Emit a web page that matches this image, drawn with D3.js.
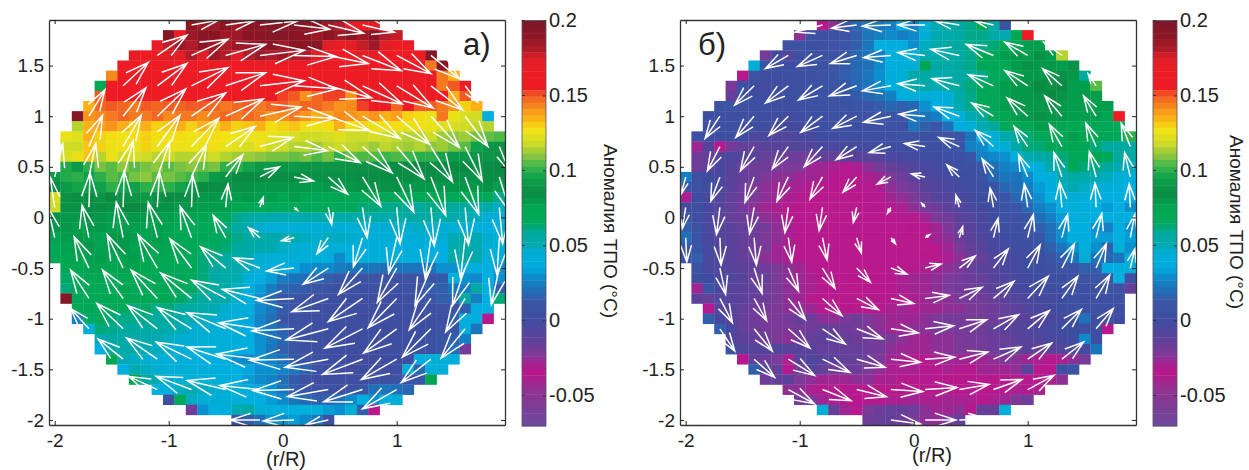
<!DOCTYPE html>
<html>
<head>
<meta charset="utf-8">
<script src="https://cdn.jsdelivr.net/npm/d3@7"></script>
<style>
  body { margin: 0; background: #fff; }
  text { font-family: "Liberation Sans", Arial, sans-serif; fill: #222; }
</style>
</head>
<body>
<div id="chart-area"></div>
<script>
var _ = null

// first filled column of each grid row (rows run from y=1.9 down to y=-2.0)
var firstCol = [12,10,9,7,6,5,4,4,3,2,2,1,1,1,1,0,0,0,0,0,0,0,0,0,1,1,1,1,2,2,3,4,4,5,6,7,9,10,12,16]

// SST anomaly, in 0.001 deg C
var sstA = [
[190,185,185,190,185,190,190,195,190,195,190,190,185,180,170,165,170],
[195,165,185,190,190,185,185,190,190,195,195,190,190,185,190,185,190,185,190,180,178],
[170,178,185,180,190,185,180,185,185,190,190,185,190,190,195,175,170,170,178,185,175,165,168],
[170,165,170,175,175,180,175,185,180,175,180,185,180,185,180,180,175,170,165,165,170,170,165,165,165,165,195],
[168,165,165,165,168,165,165,165,165,165,165,165,168,165,165,165,165,165,165,165,165,168,165,165,165,165,165,145,192],
[142,162,165,165,165,168,165,165,165,162,165,165,165,168,165,165,165,165,165,165,165,165,165,168,165,165,165,165,160,145,135],
[72,160,165,165,165,162,165,165,165,165,168,165,165,165,165,162,165,165,165,165,165,168,165,165,165,165,165,165,162,165,145,150,165],
[150,155,160,158,160,160,160,155,160,160,158,155,160,160,155,155,152,150,140,148,152,152,140,162,165,165,165,165,165,160,155,135,150],
[135,148,150,148,145,150,148,150,148,150,150,148,145,148,150,145,148,150,145,148,148,145,140,142,152,155,155,148,165,150,150,145,140,130,135],
[195,140,142,145,148,145,145,148,142,145,145,142,145,148,145,148,145,140,142,145,140,135,138,142,140,138,140,135,138,130,128,125,145,125,120,118,40],
[115,135,138,140,135,130,135,130,132,135,130,135,130,135,130,132,135,128,130,132,128,125,128,135,128,130,125,128,128,125,128,125,122,120,118,116,115],
[125,122,135,130,128,126,128,130,128,125,128,126,128,128,127,126,126,125,124,122,120,118,118,120,122,118,118,120,118,117,115,115,118,112,110,112,108,106,104],
[118,118,132,130,125,128,125,130,125,128,125,126,124,128,125,123,120,125,118,118,115,115,112,116,118,116,115,112,116,114,112,115,110,112,108,105,95,90,88],
[120,125,132,115,125,118,120,118,115,118,115,115,116,118,115,112,112,110,108,108,106,108,104,108,100,106,104,104,102,104,102,100,100,96,92,92,90,90,88],
[98,92,100,108,105,110,105,108,110,105,108,110,106,108,100,100,96,92,92,90,92,90,90,90,90,88,88,88,88,86,86,85,85,85,85,85,82,84,85],
[92,98,100,95,100,105,102,108,110,105,108,105,102,100,92,90,86,86,85,84,84,84,84,82,82,82,82,84,84,84,84,84,82,84,84,84,82,82,84,84],
[85,92,96,92,95,100,96,95,100,100,100,96,92,86,84,84,82,82,80,80,80,80,80,78,80,80,80,82,82,82,82,80,80,80,80,80,80,80,82,78],
[120,88,84,86,88,85,88,90,92,88,85,84,84,80,80,78,78,80,78,78,75,78,75,72,72,74,72,72,74,72,72,72,72,74,75,72,72,70,68,60],
[118,82,82,84,84,82,85,85,84,82,82,80,80,78,78,78,75,72,70,68,66,66,65,65,65,66,65,62,62,60,60,58,58,60,60,58,58,55,52,48],
[82,80,80,82,80,78,78,80,80,78,78,76,76,74,72,66,60,56,54,52,50,50,52,52,54,54,52,54,54,52,54,56,56,56,54,52,50,48,45,45],
[80,80,78,80,80,78,78,78,76,78,76,74,72,70,68,62,56,50,46,44,44,44,44,44,45,45,44,45,44,45,46,46,48,46,44,44,42,40,38,42],
[76,78,80,78,76,80,80,78,76,78,76,75,72,68,66,64,60,56,54,52,50,50,48,46,48,48,46,44,44,42,42,42,44,42,45,50,52,50,46,40],
[72,76,78,80,76,78,80,76,78,76,74,72,70,66,64,62,58,55,52,50,48,46,44,44,42,42,40,38,38,36,36,38,38,35,36,52,55,50,44,38],
[68,74,76,76,78,76,76,78,74,74,72,70,66,62,60,56,54,50,46,44,44,44,42,42,40,28,40,42,42,42,40,42,38,36,36,52,55,52,42,38],
[72,74,76,76,74,76,76,74,72,72,70,66,62,58,54,52,48,44,40,38,34,30,28,28,24,22,22,22,20,22,22,22,22,30,30,38,40,36,30],
[64,70,72,74,72,72,72,70,72,70,68,66,62,56,54,50,42,36,32,24,22,20,18,15,12,10,8,8,8,8,8,8,12,14,40,30,28,38,30],
[62,68,72,72,72,74,72,70,70,68,68,64,60,56,54,48,38,32,24,18,16,14,10,8,6,5,5,6,5,5,6,8,15,15,22,25,55,35,15],
[195,70,72,72,74,72,70,72,72,68,64,60,58,54,52,46,38,30,18,12,10,8,5,5,3,3,3,3,3,3,5,10,12,15,16,55,25,35,62],
[72,68,66,68,66,62,64,60,62,58,55,52,50,46,42,38,28,22,14,10,8,5,3,2,2,2,2,2,3,3,3,5,8,12,15,35,35],
[25,64,65,62,60,60,60,56,58,54,50,48,46,44,40,34,26,20,12,8,5,3,2,2,2,0,2,2,2,3,3,5,5,15,40,35,-35],
[40,62,60,58,58,56,56,52,50,46,46,44,42,42,36,28,22,16,10,5,3,2,2,0,2,2,0,2,2,3,5,8,12,40,22],
[50,55,54,54,52,50,48,46,45,44,44,42,42,38,30,24,18,12,6,5,2,2,0,0,2,2,2,3,5,8,12,15,25],
[35,55,54,52,50,48,46,44,44,42,42,40,38,36,30,22,15,10,5,3,2,0,0,0,0,2,2,3,5,8,12,20,-20],
[75,50,48,46,44,42,42,40,40,38,36,30,28,30,25,20,14,10,5,2,0,0,-2,0,0,2,2,38,42,42,40],
[35,50,48,46,44,44,42,42,40,38,36,34,30,30,26,22,16,8,2,0,-2,0,0,2,3,40,18,42,42],
[72,55,50,46,44,44,42,42,40,38,32,28,26,20,14,8,2,0,0,2,3,5,5,8,12,12,75],
[35,40,48,50,48,46,44,42,38,34,30,22,15,10,8,5,5,8,10,20,22,20,18],
[5,65,48,45,45,44,42,40,36,32,28,22,18,15,15,20,28,35,30,38,42],
[-20,30,35,40,50,55,45,42,40,40,40,40,32,30,45,15,-35],
[5,15,20,30,30,32,28,22,5]
]

// SST anomaly, in 0.001 deg C
var sstB = [
[-33,-25,10,18,22,22,25,38,25,45,50,55,58,60,72,55,8],
[-25,5,5,5,8,15,22,25,28,25,28,45,50,52,55,60,60,55,50,72,165],
[5,8,6,5,8,12,15,22,35,38,40,30,48,52,55,58,60,60,62,72,75,78,78],
[-20,-3,-8,2,5,5,8,12,18,22,25,38,42,42,50,52,55,55,60,68,70,78,80,78,82,78,115],
[42,12,2,3,4,5,8,10,14,18,20,28,38,42,45,68,55,55,58,60,68,72,72,78,82,80,80,78,82],
[-35,8,0,2,3,5,6,8,10,15,18,22,30,40,45,52,55,50,52,55,58,60,65,70,78,80,80,82,82,80,58],
[-22,5,0,-2,0,3,5,6,8,10,12,18,22,30,40,45,52,55,50,55,58,62,68,72,78,80,80,85,88,85,78,78,105],
[-15,5,2,0,2,3,5,6,8,8,10,14,18,20,25,35,42,45,40,45,52,60,65,70,78,80,80,82,85,82,78,80,78],
[8,8,5,3,2,2,3,5,5,6,8,8,10,12,15,18,15,18,30,35,42,50,60,65,72,78,80,80,80,82,80,78,78,78,78],
[3,3,3,3,2,2,0,-2,2,3,3,5,5,5,8,10,10,12,22,22,25,35,42,50,58,70,75,78,80,82,80,80,78,78,78,75,165],
[3,2,2,2,0,0,-2,-3,-2,0,2,2,3,3,5,5,8,5,22,15,12,20,38,45,50,58,65,72,75,78,78,75,75,72,70,68,65],
[5,3,3,3,0,-5,-5,-8,-8,-5,-3,0,0,2,2,3,3,5,8,8,5,5,8,10,22,38,45,52,58,62,68,72,75,78,75,75,70,65,100],
[-28,-10,-33,-20,-15,-15,-10,-12,-10,-8,-8,-5,-5,-3,-3,-2,0,0,2,2,5,5,8,12,25,28,38,45,55,62,62,68,70,75,72,62,58,55,55],
[-18,-15,-8,-5,-10,-10,-15,-15,-18,-18,-18,-15,-15,-12,-10,-10,-8,-5,-3,-2,0,0,3,5,12,25,28,30,40,50,55,58,62,68,70,75,65,58,55],
[-18,-15,-5,-10,-18,-18,-18,-22,-22,-22,-28,-28,-30,-32,-30,-25,-20,-15,-12,-8,-5,-3,0,3,5,12,20,25,28,35,42,50,58,65,62,60,58,50,48],
[25,5,0,-5,-12,-15,-18,-22,-25,-25,-28,-28,-30,-33,-33,-33,-30,-28,-22,-18,-12,-8,-5,-2,0,3,8,18,22,22,28,35,42,50,55,52,50,48,45,40],
[10,5,0,-5,-12,-18,-22,-25,-28,-28,-30,-33,-33,-35,-35,-33,-32,-30,-25,-22,-18,-12,-8,-5,-2,0,5,12,18,20,25,32,40,48,50,48,45,42,40,35],
[-30,0,-3,-8,-15,-18,-22,-25,-28,-30,-32,-35,-35,-36,-36,-35,-33,-32,-28,-25,-22,-15,-10,-8,-5,-2,2,8,12,18,22,30,35,42,45,42,40,35,38,35],
[-2,2,-5,-10,-15,-20,-25,-28,-30,-32,-35,-36,-36,-36,-36,-36,-35,-35,-32,-30,-25,-20,-18,-12,-8,-5,-2,2,8,12,18,25,30,38,42,40,38,32,35,30],
[5,3,-5,-12,-15,-18,-22,-25,-28,-32,-33,-36,-36,-36,-36,-35,-35,-35,-33,-33,-32,-28,-22,-18,-12,-8,-5,0,5,8,12,20,25,32,38,42,38,35,38,35],
[15,5,-5,-10,-12,-15,-18,-20,-25,-30,-33,-35,-36,-36,-36,-36,-35,-35,-36,-36,-35,-33,-28,-22,-15,-10,-5,-2,3,5,8,15,20,28,35,35,30,25,38,30],
[20,8,-5,-10,-12,-15,-18,-22,-25,-30,-33,-35,-36,-36,-36,-36,-36,-36,-35,-36,-36,-33,-28,-25,-18,-12,-8,-2,0,3,5,12,20,30,38,38,32,32,38,32],
[12,12,-2,-10,-12,-15,-20,-22,-28,-30,-33,-36,-36,-36,-36,-36,-36,-36,-36,-36,-36,-36,-33,-28,-22,-15,-10,-5,-2,0,2,5,15,22,30,42,30,15,42,30],
[8,15,-5,-8,-12,-15,-18,-25,-28,-30,-33,-36,-36,-36,-36,-36,-36,-36,-36,-36,-36,-35,-33,-30,-25,-18,-15,-8,-5,-2,0,3,10,15,22,45,22,18,22,42],
[8,-5,-8,-10,-12,-15,-18,-22,-25,-28,-33,-36,-36,-36,-36,-36,-36,-35,-35,-33,-30,-28,-25,-22,-15,-12,-10,-5,-3,0,3,5,10,12,15,15,35,38,42],
[3,0,-5,-8,-10,-18,-15,-22,-25,-28,-30,-33,-35,-36,-35,-35,-33,-32,-30,-28,-28,-25,-22,-20,-18,-15,-10,-8,-5,-2,0,2,3,5,8,12,12,40,8],
[-28,10,-5,-10,-12,-15,-18,-22,-25,-28,-30,-33,-35,-36,-36,-35,-33,-32,-30,-28,-28,-25,-22,-20,-18,-15,-12,-8,-5,-2,0,0,2,2,5,5,8,5,-15],
[-12,-15,-8,-10,-12,-15,-18,-22,-25,-28,-32,-35,-36,-36,-36,-35,-33,-32,-32,-30,-28,-25,-25,-22,-20,-18,-15,-12,-8,-5,-3,-2,0,2,2,5,5,5],
[-33,-8,-10,-15,-18,-20,-22,-25,-25,-28,-32,-32,-35,-36,-35,-33,-30,-28,-30,-28,-28,-25,-25,-22,-20,-18,-15,-12,-8,-5,-2,0,2,2,5,5,3],
[15,-5,-12,-15,-18,-22,-22,-20,-15,-18,-25,-25,-22,-18,-22,-25,-28,-28,-28,-25,-22,-20,-20,-22,-20,-18,-15,-12,-10,-8,-5,-2,0,20,2,3,0],
[15,-5,-15,-18,-20,-22,-22,-20,-18,-15,-15,-18,-20,-22,-25,-28,-28,-25,-25,-22,-22,-20,-20,-18,-15,-12,-10,-8,-5,-2,0,0,2,3,-33],
[-10,-12,-15,-18,-22,-25,-20,-15,-12,-12,-15,-18,-18,-20,-22,-25,-28,-28,-25,-25,-22,-20,-20,-18,-15,-12,-10,-8,-5,-3,0,28,2],
[8,-8,-10,-10,-8,-10,-12,-12,-15,-15,-15,-15,-18,-20,-25,-28,-28,-28,-25,-25,-22,-22,-20,-18,-15,-15,-12,-15,-12,-8,-5,-2,22],
[-33,-15,-18,-22,-30,-12,-8,-10,-12,-15,-15,-18,-22,-28,-30,-33,-33,-30,-28,-28,-28,-28,-25,-22,-25,-28,-30,-32,-30,-25,-20],
[15,-10,-15,-32,-18,-10,-15,-18,-18,-18,-22,-25,-30,-30,-30,-33,-33,-30,-32,-32,-28,-28,-28,-25,-10,-33,-33,3,10],
[-18,-15,-12,-22,-25,-28,-28,-28,-25,-25,-30,-30,-33,-33,-33,-33,-35,-35,-33,-33,-33,-33,-33,-33,-33,-30,-25],
[-25,-25,-30,-32,-33,-33,-33,-33,-35,-35,-35,-35,-35,-35,-35,-35,-35,-35,-35,-33,-30,-32,-30],
[-20,-22,-28,-30,-33,-33,-33,-33,-30,-30,-28,-30,-30,-28,-30,-30,-33,-30,-28,-22,-18],
[42,-15,-28,-33,-22,-18,-15,-15,-18,-25,-28,-28,-25,-33,-15,-15,42],
[-18,-15,-15,-18,-22,-25,-25,-22,-15]
]

// current vectors, in 0.01 r/R, on every third grid point
var quiverX = [-2,-1.7,-1.4,-1.1,-0.8,-0.5,-0.2,0.1,0.4,0.7,1,1.3,1.6,1.9]
var quiverY = [1.9,1.6,1.3,1,0.7,0.4,0.1,-0.2,-0.5,-0.8,-1.1,-1.4,-1.7,-2]

var uA = [
[_,_,_,_,24,25,33,31,31,28,_,_,_,_],
[_,_,_,26,32,35,39,37,35,34,30,25,_,_],
[_,_,22,26,32,35,39,38,38,35,32,28,11,_],
[_,14,20,25,30,33,36,36,36,33,29,25,20,_],
[_,12,16,20,24,26,29,29,28,26,24,19,15,9],
[7,6,9,11,13,15,17,17,17,16,15,13,12,10],
[-4,1,1,2,1,2,3,3,3,4,3,3,3,3],
[-6,-6,-6,-8,-10,-11,-10,-11,-10,-8,-7,-5,-4,-2],
[_,-13,-14,-17,-19,-22,-23,-24,-22,-21,-17,-14,-11,-7],
[_,-16,-18,-23,-27,-30,-33,-33,-32,-30,-25,-19,-17,_],
[_,-16,-23,-26,-30,-34,-36,-37,-37,-33,-29,-25,-21,_],
[_,_,-22,-27,-31,-34,-38,-39,-38,-35,-31,-26,_,_],
[_,_,_,-25,-31,-34,-35,-36,-36,-34,-30,_,_,_],
[_,_,_,_,_,_,-26,-27,-20,_,_,_,_,_]
]
var vA = [
[_,_,_,_,5,4,4,-4,-8,-7,_,_,_,_],
[_,_,_,20,16,11,5,-1,-8,-15,-18,-23,_,_],
[_,_,23,22,18,13,5,-3,-12,-18,-22,-24,-16,_],
[_,26,28,27,23,17,9,-2,-14,-22,-28,-31,-30,_],
[_,31,31,31,28,20,9,-4,-16,-26,-32,-35,-34,-25],
[33,33,36,35,32,22,10,-4,-17,-29,-35,-38,-37,-36],
[30,34,36,35,32,23,10,-3,-17,-30,-36,-38,-37,-36],
[30,32,35,35,31,22,10,-3,-16,-29,-35,-40,-40,-37],
[_,31,33,33,29,21,10,-3,-16,-26,-34,-37,-37,-36],
[_,28,28,28,25,18,9,-2,-13,-23,-29,-31,-33,_],
[_,20,25,23,21,16,6,-2,-11,-19,-24,-28,-29,_],
[_,_,20,21,17,12,5,-1,-8,-15,-20,-23,_,_],
[_,_,_,13,13,9,4,-1,-7,-12,-19,_,_,_],
[_,_,_,_,_,_,0,-1,-5,_,_,_,_,_]
]
var uB = [
[_,_,_,_,-24,-22,-25,-24,-21,-16,_,_,_,_],
[_,_,_,-20,-22,-23,-24,-24,-25,-24,-20,-16,_,_],
[_,_,-17,-20,-21,-24,-25,-24,-24,-22,-20,-17,-7,_],
[_,-13,-16,-17,-19,-21,-24,-23,-22,-19,-18,-15,-11,_],
[_,-11,-12,-14,-16,-18,-19,-18,-18,-16,-12,-11,-9,-8],
[-4,-8,-8,-10,-11,-12,-12,-12,-11,-10,-8,-7,-6,-5],
[-3,-3,-4,-3,-3,-3,-3,-3,-3,-3,-3,-2,-1,-1],
[1,1,2,3,4,4,4,4,3,4,5,5,5,4],
[_,5,7,9,11,12,14,14,14,13,11,11,9,4],
[_,11,11,15,17,19,20,21,20,18,18,14,12,_],
[_,13,16,19,20,23,24,25,24,22,19,17,15,_],
[_,_,18,23,24,25,26,26,25,24,21,19,_,_],
[_,_,_,23,25,26,28,28,26,25,23,_,_,_],
[_,_,_,_,_,_,26,27,25,_,_,_,_,_]
]
var vB = [
[_,_,_,_,-7,-3,-1,0,4,4,_,_,_,_],
[_,_,_,-13,-11,-8,-2,3,6,11,13,13,_,_],
[_,_,-19,-17,-14,-10,-5,2,7,11,15,17,12,_],
[_,-22,-21,-19,-16,-12,-6,2,9,13,18,20,20,_],
[_,-24,-24,-22,-20,-13,-6,3,9,16,20,22,23,23],
[-17,-24,-25,-24,-22,-15,-7,3,12,18,22,24,25,24],
[-21,-27,-26,-25,-23,-15,-6,4,12,19,23,25,24,23],
[-24,-27,-27,-24,-22,-15,-6,3,11,19,23,23,24,23],
[_,-26,-25,-23,-20,-14,-6,4,12,19,23,24,24,19],
[_,-24,-22,-21,-17,-11,-5,3,11,17,22,22,23,_],
[_,-22,-22,-19,-15,-10,-4,3,9,14,18,19,20,_],
[_,_,-18,-16,-13,-8,-3,2,7,12,16,17,_,_],
[_,_,_,-14,-11,-7,-2,2,5,10,14,_,_,_],
[_,_,_,_,_,_,-4,0,1,_,_,_,_,_]
]

var xTicks = [-2,-1,0,1]
var yTicks = [-2,-1.5,-1,-0.5,0,0.5,1,1.5]
var barTicks = [-0.05,0,0.05,0.1,0.15,0.2]
var barTitle = 'Аномалия ТПО (°С)'
var xTitle = '(r/R)'

var colorStops = [-0.07,-0.06,-0.045,-0.036,-0.032,-0.022,-0.012,0,0.012,0.022,0.03,0.035,0.045,0.05,0.058,0.065,0.075,0.085,0.095,0.102,0.11,0.118,0.127,0.135,0.145,0.15,0.155,0.165,0.175,0.18,0.19,0.2]
var colorHex = ['#6d4a9e','#7a3f96','#93308f','#b8198c','#b5198e','#7b3a98','#5a429a','#3f4da0','#3a55a5','#1b75bb','#0a90cf','#00aee0','#00aed5','#00aab0','#00a99d','#00a85a','#00a651','#0b8a43','#0da14b','#39b54a','#8dc63f','#cfdc26','#f2e412','#fbb017','#f47920','#f15a24','#ed1c24','#ed1c24','#e01e26','#b01c2a','#8c1524','#7b1a2a']

var color = d3.scaleLinear().domain(colorStops).range(colorHex)

var plotWidth = 456, plotHeight = 405

var svg = d3.select('#chart-area')
    .append('svg')
    .attr('width', 1249)
    .attr('height', 470)
    .style('display', 'block')

var x = d3.scaleLinear().domain([-2.05, 1.95]).range([0, plotWidth])
var y = d3.scaleLinear().domain([-2.05, 1.95]).range([plotHeight, 0])
var barY = d3.scaleLinear().domain([-0.0705, 0.2]).range([plotHeight + 1, 0.5])

function drawAxes(g) {
  g.append('g').attr('transform', 'translate(0,' + plotHeight + ')')
    .call(d3.axisBottom(x).tickValues(xTicks).tickSizeInner(-4).tickSizeOuter(0).tickPadding(8.5).tickFormat(String))
  g.append('g')
    .call(d3.axisLeft(y).tickValues(yTicks).tickSizeInner(-4).tickSizeOuter(0).tickPadding(5).tickFormat(String))
  g.append('g')
    .call(d3.axisTop(x).tickValues(xTicks).tickSizeInner(-4).tickSizeOuter(0).tickFormat(''))
  g.append('g').attr('transform', 'translate(' + plotWidth + ',0)')
    .call(d3.axisRight(y).tickValues(yTicks).tickSizeInner(-4).tickSizeOuter(0).tickFormat(''))
  g.selectAll('.domain').attr('stroke', '#333').attr('stroke-width', 1.3)
  g.selectAll('.tick line').attr('stroke', '#222')
  g.selectAll('.tick text').attr('font-size', 19).attr('fill', '#222')
    .style('font-family', '"Liberation Sans", Arial, sans-serif')
}

function drawPanel(id, left, cells, u, v, label, labelX, xTitleX, xTitleY, barTitleX, barTitleY) {
  var g = svg.append('g').attr('transform', 'translate(' + left + ',20)')

  // heat map cells
  var cellData = []
  cells.forEach(function(row, i) {
    row.forEach(function(val, k) {
      cellData.push({ gx: (firstCol[i] + k - 20) / 10, gy: (19 - i) / 10, val: val / 1000 })
    })
  })
  g.selectAll('rect.cell').data(cellData).enter()
    .append('rect')
    .attr('class', 'cell')
    .attr('x', function(d) { return x(d.gx - 0.05) })
    .attr('y', function(d) { return y(d.gy + 0.05) })
    .attr('width', x(0.1) - x(0) + 0.3)
    .attr('height', y(0) - y(0.1) + 0.3)
    .attr('fill', function(d) { return color(d.val) })

  svg.append('clipPath').attr('id', 'clip-' + id)
    .append('rect').attr('width', plotWidth).attr('height', plotHeight)

  // quiver arrows
  var arrows = []
  u.forEach(function(row, i) {
    row.forEach(function(val, k) {
      if (val === null) return
      arrows.push({ gx: quiverX[k], gy: quiverY[i], du: val / 100, dv: v[i][k] / 100 })
    })
  })
  var barbAngle = 18 * Math.PI / 180, barbLength = 0.72
  g.append('g').attr('clip-path', 'url(#clip-' + id + ')')
    .selectAll('path').data(arrows).enter()
    .append('path')
    .attr('fill', 'none')
    .attr('stroke', '#fff')
    .attr('stroke-width', 1.5)
    .attr('d', function(d) {
      var x0 = x(d.gx), y0 = y(d.gy)
      var x1 = x(d.gx + d.du), y1 = y(d.gy + d.dv)
      var len = Math.hypot(x0 - x1, y0 - y1) * barbLength
      var a = Math.atan2(y0 - y1, x0 - x1)
      var line = d3.path()
      line.moveTo(x0, y0); line.lineTo(x1, y1)
      line.moveTo(x1 + len * Math.cos(a + barbAngle), y1 + len * Math.sin(a + barbAngle)); line.lineTo(x1, y1)
      line.lineTo(x1 + len * Math.cos(a - barbAngle), y1 + len * Math.sin(a - barbAngle))
      return line.toString()
    })

  drawAxes(g)

  g.append('text').attr('x', labelX).attr('y', 35).attr('font-size', 31).text(label)
  g.append('text').attr('x', xTitleX).attr('y', xTitleY).attr('text-anchor', 'middle').attr('font-size', 20).text(xTitle)

  // colour bar
  var bar = g.append('g').attr('transform', 'translate(473,0)')
  var steps = d3.range(0, 64)
  var stepH = (barY(-0.0705) - barY(0.2)) / 64
  bar.selectAll('rect').data(steps).enter()
    .append('rect')
    .attr('y', function(s) { return barY(0.2) + s * stepH })
    .attr('width', 24)
    .attr('height', stepH + 0.4)
    .attr('fill', function(s) { return color(0.2 - (s + 0.5) / 64 * 0.2705) })
  bar.append('rect').attr('y', barY(0.2)).attr('width', 24).attr('height', barY(-0.0705) - barY(0.2))
    .attr('fill', 'none').attr('stroke', '#556').attr('stroke-width', 0.8)
  var barAxis = bar.append('g').attr('transform', 'translate(24,0)')
    .call(d3.axisRight(barY).tickValues(barTicks).tickSizeInner(-3).tickSizeOuter(0).tickPadding(3).tickFormat(String))
  barAxis.select('.domain').remove()
  barAxis.selectAll('.tick line').attr('stroke', '#334')
  barAxis.selectAll('.tick text').attr('font-size', 20).attr('fill', '#222')
    .style('font-family', '"Liberation Sans", Arial, sans-serif')
  bar.append('g').selectAll('line').data(barTicks).enter().append('line')
    .attr('x2', 3).attr('y1', barY).attr('y2', barY).attr('stroke', '#334')

  g.append('text')
    .attr('transform', 'translate(' + barTitleX + ',' + barTitleY + ') rotate(90)')
    .attr('text-anchor', 'middle')
    .attr('font-size', 19)
    .text(barTitle)
}

drawPanel('a', 49, sstA, uA, vA, 'а)', 414, 237, 446, 555, 211)
drawPanel('b', 680, sstB, uB, vB, 'б)', 18, 252, 442, 550, 202)
</script>
</body>
</html>
